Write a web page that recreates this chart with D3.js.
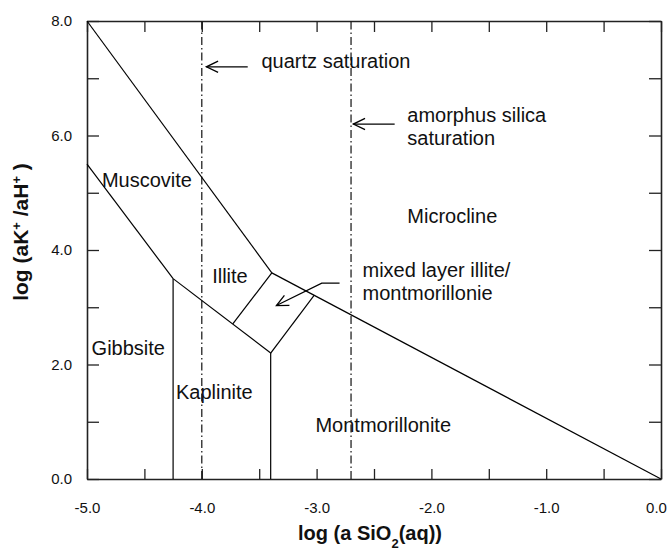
<!DOCTYPE html>
<html>
<head>
<meta charset="utf-8">
<script src="https://cdn.jsdelivr.net/npm/d3@7"></script>
<style>
  html, body { margin: 0; padding: 0; background: #fff; }
  svg { display: block; font-family: "Liberation Sans", Arial, Helvetica, sans-serif; }
</style>
</head>
<body>
<svg id="chart" width="668" height="549"></svg>
<script>
// Stability fields in the K2O-Al2O3-SiO2-H2O system at 25 °C
const xDomain = [-5, 0];
const yDomain = [0, 8];
const xTicks = [-5, -4.5, -4, -3.5, -3, -2.5, -2, -1.5, -1, -0.5, 0];
const xTickLabels = [-5, -4, -3, -2, -1, 0];
const yTicks = [0, 1, 2, 3, 4, 5, 6, 7, 8];
const yTickLabels = [0, 2, 4, 6, 8];

// Phase boundaries, [log aSiO2, log aK+/aH+]
const boundaries = [
  [[-5, 8], [-3.39, 3.6]],        // microcline / muscovite
  [[-3.39, 3.6], [0, 0]],         // microcline / illite-montmorillonite
  [[-5, 5.5], [-4.25, 3.5]],      // muscovite / gibbsite
  [[-4.25, 3.5], [-3.4, 2.2]],    // illite / kaolinite
  [[-4.25, 0], [-4.25, 3.5]],     // gibbsite / kaolinite
  [[-3.4, 0], [-3.4, 2.2]],       // kaolinite / montmorillonite
  [[-3.73, 2.71], [-3.39, 3.6]],  // illite / mixed layer
  [[-3.4, 2.2], [-3.02, 3.21]]    // mixed layer / montmorillonite
];

// Silica saturation limits
const saturation = [-4.0, -2.7];

// Field names
const fieldNames = ["Muscovite", "Microcline", "Illite", "Gibbsite", "Kaplinite", "Montmorillonite"];
const fieldX = [-4.87, -2.21, -3.91, -4.96, -4.225, -3.01];
const fieldY = [5.1, 4.48, 3.43, 2.16, 1.4, 0.82];

// Annotation notes and their arrows
const noteLines = [["quartz saturation"], ["amorphus silica", "saturation"], ["mixed layer illite/", "montmorillonie"]];
const noteX = [-3.48, -2.21, -2.6];
const noteY = [7.18, 6.24, 3.53];
const arrows = [
  [[-3.6, 7.2], [-3.96, 7.2]],
  [[-2.32, 6.2], [-2.68, 6.2]],
  [[-2.8, 3.42], [-2.955, 3.42], [-3.35, 3.03]]
];

const svg = d3.select("#chart");
const margin = { left: 87, top: 21, right: 7, bottom: 70 };
const W = 668, H = 549;

const x = d3.scaleLinear().domain(xDomain).range([margin.left, W - margin.right]);
const y = d3.scaleLinear().domain(yDomain).range([H - margin.bottom, margin.top]);

const fmt = v => v.toFixed(1);
const showX = v => xTickLabels.some(t => Math.abs(t - v) < 1e-9) ? fmt(v) : "";
const showY = v => yTickLabels.some(t => Math.abs(t - v) < 1e-9) ? fmt(v) : "";

// Axes with inward ticks
const gB = svg.append("g").attr("transform", `translate(0,${y(0)})`)
  .call(d3.axisBottom(x).tickValues(xTicks).tickSizeInner(-10).tickSizeOuter(0).tickPadding(23).tickFormat(showX));
const gT = svg.append("g").attr("transform", `translate(0,${y(8)})`)
  .call(d3.axisTop(x).tickValues(xTicks).tickSizeInner(-11).tickSizeOuter(0).tickFormat(""));
const gL = svg.append("g").attr("transform", `translate(${x(-5)},0)`)
  .call(d3.axisLeft(y).tickValues(yTicks).tickSizeInner(-12).tickSizeOuter(0).tickPadding(15).tickFormat(showY));
const gR = svg.append("g").attr("transform", `translate(${x(0)},0)`)
  .call(d3.axisRight(y).tickValues(yTicks).tickSizeInner(-12).tickSizeOuter(0).tickFormat(""));

[gB, gT, gL, gR].forEach(g => {
  g.select(".domain").attr("stroke", "#222").attr("stroke-width", 1.6);
  g.selectAll(".tick line").attr("stroke", "#222").attr("stroke-width", 1.3);
  g.selectAll(".tick text").attr("fill", "#111").style("font-size", "15px")
    .style("font-family", "'Liberation Sans', Arial, sans-serif");
});
// keep the last bottom label inside the page
gB.selectAll(".tick text").filter(d => d === 0).attr("dx", -5);

// Saturation lines (dash-dot)
svg.append("g").selectAll("line").data(saturation).join("line")
  .attr("x1", d => x(d)).attr("x2", d => x(d))
  .attr("y1", y(0)).attr("y2", y(8))
  .attr("stroke", "#111").attr("stroke-width", 1.2)
  .attr("stroke-dasharray", "8,3,1.5,3");

// Phase boundaries
const line = d3.line().x(d => x(d[0])).y(d => y(d[1]));
svg.append("g").selectAll("path").data(boundaries).join("path")
  .attr("d", line).attr("fill", "none")
  .attr("stroke", "#000").attr("stroke-width", 1.2);

// Field labels
svg.append("g").selectAll("text").data(fieldNames).join("text")
  .attr("x", (d, i) => x(fieldX[i])).attr("y", (d, i) => y(fieldY[i]))
  .attr("fill", "#111").style("font-size", "20px").text(d => d);

// Notes
const notes = svg.append("g").selectAll("text").data(noteLines).join("text")
  .attr("x", (d, i) => x(noteX[i])).attr("y", (d, i) => y(noteY[i]))
  .attr("fill", "#111").style("font-size", "20px");
notes.selectAll("tspan").data(d => d).join("tspan")
  .attr("x", function () { return d3.select(this.parentNode).attr("x"); })
  .attr("dy", (d, i) => i === 0 ? 0 : 23)
  .text(d => d);

// Arrows with open heads
const arrowG = svg.append("g").attr("fill", "none").attr("stroke", "#000").attr("stroke-width", 1.3);
arrows.forEach(pts => {
  arrowG.append("path").attr("d", line(pts));
  const a = pts[pts.length - 2], b = pts[pts.length - 1];
  const ax = x(a[0]), ay = y(a[1]), bx = x(b[0]), by = y(b[1]);
  const ang = Math.atan2(by - ay, bx - ax);
  const len = 13, spread = 0.45;
  const p1 = [bx - len * Math.cos(ang - spread), by - len * Math.sin(ang - spread)];
  const p2 = [bx - len * Math.cos(ang + spread), by - len * Math.sin(ang + spread)];
  arrowG.append("path").attr("d", `M${p1[0]},${p1[1]}L${bx},${by}L${p2[0]},${p2[1]}`);
});

// Axis titles
const xt = svg.append("text")
  .attr("x", 370).attr("y", 540).attr("text-anchor", "middle")
  .style("font-size", "20px").style("font-weight", "bold").attr("fill", "#111");
xt.append("tspan").text("log (a SiO");
xt.append("tspan").attr("baseline-shift", "sub").style("font-size", "13px").text("2");
xt.append("tspan").text("(aq))");

const yt = svg.append("text")
  .attr("transform", `translate(28,232) rotate(-90)`).attr("text-anchor", "middle")
  .style("font-size", "21px").style("font-weight", "bold").attr("fill", "#111");
yt.append("tspan").text("log (aK");
yt.append("tspan").attr("baseline-shift", "super").style("font-size", "13px").text("+");
yt.append("tspan").text(" /aH");
yt.append("tspan").attr("baseline-shift", "super").style("font-size", "13px").text("+");
yt.append("tspan").text(" )");
</script>
</body>
</html>
